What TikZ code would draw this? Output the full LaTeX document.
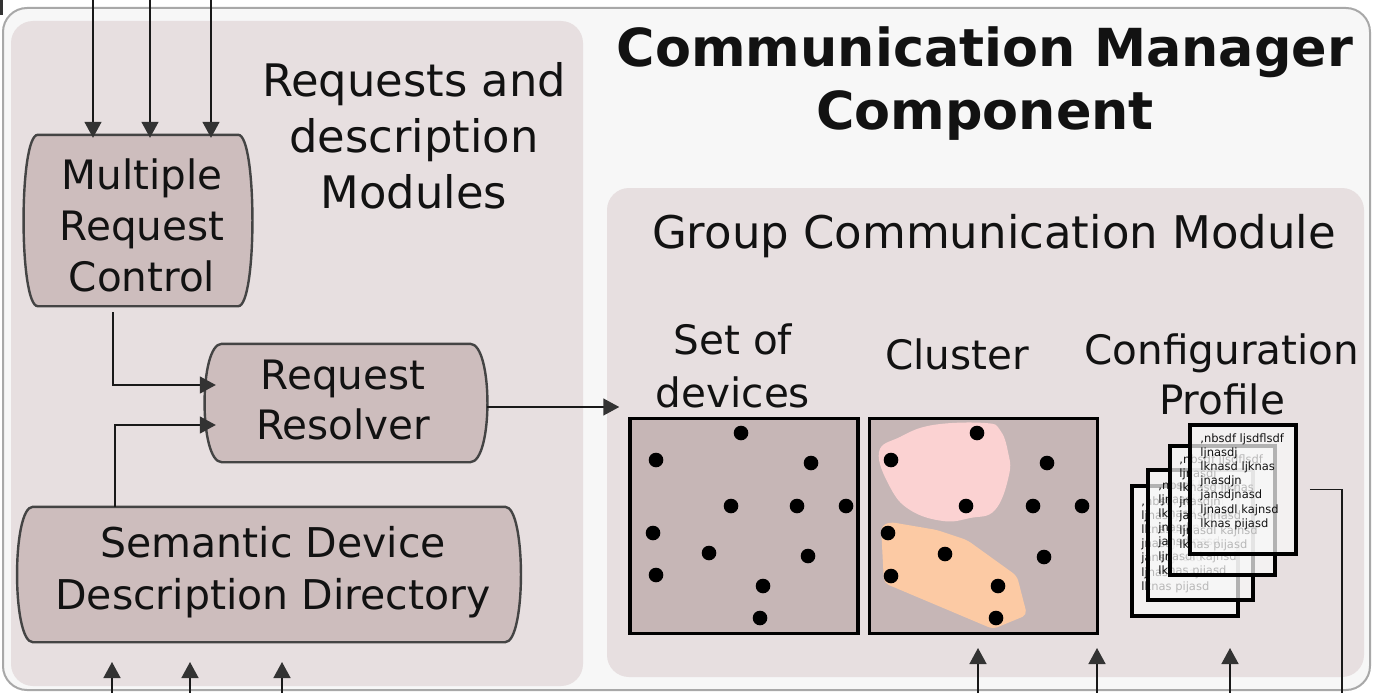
\documentclass[tikz,border=0pt]{standalone}
\usepackage{fontspec}
\setmainfont{DejaVu Sans}
\usetikzlibrary{arrows.meta,calc}
\pgfdeclarelayer{panels}
\pgfdeclarelayer{shapes}
\pgfsetlayers{panels,shapes,main}

\definecolor{outerbg}{HTML}{F7F7F7}
\definecolor{outerline}{HTML}{A8A8A8}
\definecolor{panelbg}{HTML}{E7DFE0}
\definecolor{nodefill}{HTML}{CDBDBD}
\definecolor{nodeline}{HTML}{444444}
\definecolor{boxfill}{HTML}{C6B6B6}
\definecolor{pinkzone}{HTML}{FBD2D2}
\definecolor{orangezone}{HTML}{FCCAA4}
\definecolor{pagefill}{HTML}{F8F8F8}
\definecolor{tipgray}{HTML}{333333}

% capsule outline: straight top and bottom, bulging sides
\newcommand\capsule[2]{%
  \begin{pgfonlayer}{shapes}
    \path[capline] (#1.north west) -- (#1.north east)
      .. controls ($(#1.north east)+(#2,0)$) and ($(#1.south east)+(#2,0)$) .. (#1.south east)
      -- (#1.south west)
      .. controls ($(#1.south west)+(-#2,0)$) and ($(#1.north west)+(-#2,0)$) .. cycle;
  \end{pgfonlayer}}

\newcommand\pagetext{,nbsdf ljsdflsdf\\ljnasdj\\lknasd ljknas\\jnasdjn\\jansdjnasd\\ljnasdl kajnsd\\lknas pijasd}

\begin{document}
\begin{tikzpicture}[x=1pt,y=-1pt,
  every node/.style={text=black!93},
  label/.style={font=\fontsize{40.5}{51}\selectfont, align=center, inner sep=0pt},
  modnode/.style={inner sep=0pt},
  capline/.style={draw=nodeline, line width=2.4pt, fill=nodefill},
  arr/.style={draw=black!90, line width=1.5pt, -{Triangle[length=16pt,width=17pt,color=tipgray]}},
  wire/.style={draw=black!90, line width=1.5pt},
  devbox/.style={draw=black, line width=3.5pt, fill=boxfill, minimum width=228pt, minimum height=215pt, inner sep=0pt},
  paper/.style={draw=black, line width=3.5pt, fill=pagefill, fill opacity=0.72, draw opacity=1, text opacity=1, inner sep=0pt},
  papertext/.style={anchor=north west, align=left, inner sep=0pt, font=\fontsize{11.5}{14.2}\selectfont},
  dot/.style={fill=black}
]
\useasboundingbox (0,0) rectangle (1373,693);

% frames
\begin{pgfonlayer}{panels}
  \path[fill=outerbg, draw=outerline, line width=2pt, rounded corners=24pt] (3,8) rectangle (1370,690);
  \fill[black!80] (0,0) rectangle (3,15);
  \path[fill=panelbg, rounded corners=22pt] (11,21) rectangle (583,686);
  \path[fill=panelbg, rounded corners=22pt] (607,188) rectangle (1364,677);
\end{pgfonlayer}

% titles
\node[font=\bfseries\fontsize{52.4}{63}\selectfont, align=center, inner sep=0pt] (title) at (985,84) {Communication Manager\\Component};
\node[label, font=\fontsize{44.8}{56}\selectfont] (rdm) at (414,136) {Requests and\\description\\Modules};
\node[label, font=\fontsize{45}{50}\selectfont] (gcm) at (994,236) {Group Communication Module};

% request modules
\node[modnode, minimum width=200pt, minimum height=171pt] (mrc) at (138,220.5) {};
\capsule{mrc}{19}
\node[label] (mrctxt) at ([xshift=4pt,yshift=-4.5pt]mrc.center) {Multiple\\Request\\Control};
\node[modnode, minimum width=248pt, minimum height=118pt] (rr) at (346,403) {};
\capsule{rr}{23}
\node[label, font=\fontsize{40.5}{50}\selectfont] (rrtxt) at ([xshift=-3pt,yshift=2.5pt]rr.center) {Request\\Resolver};
\node[modnode, minimum width=472pt, minimum height=135pt] (sddd) at (269,574.5) {};
\capsule{sddd}{21}
\node[label, font=\fontsize{41}{52}\selectfont] (sdddtxt) at ([xshift=4pt,yshift=2.5pt]sddd.center) {Semantic Device\\Description Directory};

% group communication contents
\node[label, font=\fontsize{40.5}{53}\selectfont] (setlbl) at (733,366) {Set of\\devices};
\node[label] (clulbl) at (957,354) {Cluster};
\node[label, font=\fontsize{40.5}{50}\selectfont] (cfglbl) at (1222,374.5) {Configuration\\Profile};

\node[devbox] (setbox) at (744,526) {};
\node[devbox] (clubox) at (983.5,526) {};

\fill[pinkzone] plot[smooth cycle, tension=0.7] coordinates {(879,452) (900,437) (933,425) (985,423) (1000,430) (1008,452) (1009,475) (995,510) (970,518) (943,521) (910,510) (890,487)};
\fill[orangezone, rounded corners=5pt] (881,526) -- (890,522) -- (937,530) -- (967,540) -- (1017,576) -- (1027,615) -- (993,629) -- (884,583) -- cycle;

\foreach \p in {(741,433),(656,460),(811,463),(731,506),(797,506),(846,506),(653,533),(709,553),(808,556),(656,575),(763,586),(760,618),
                (977,433),(891,460),(1047,463),(966,506),(1033,506),(1082,506),(888,533),(945,554),(1044,557),(891,576),(998,586),(996,618)}
  \fill[dot] \p circle (7.3pt);

% configuration profile pages
\node[paper, minimum width=106pt, minimum height=130pt] (page1) at (1185,551) {};
\node[papertext] (ptext1) at ([xshift=11pt,yshift=-12pt]page1.north west) {\pagetext};
\node[paper, minimum width=105pt, minimum height=130pt] (page2) at (1200.5,535) {};
\node[papertext] (ptext2) at ([xshift=12pt,yshift=-12pt]page2.north west) {\pagetext};
\node[paper, minimum width=105pt, minimum height=129pt] (page3) at (1222.5,510.5) {};
\node[papertext] (ptext3) at ([xshift=11pt,yshift=-10pt]page3.north west) {\pagetext};
\node[paper, minimum width=106pt, minimum height=129pt] (page4) at (1243,489.5) {};
\node[papertext] (ptext4) at ([xshift=12pt,yshift=-10pt]page4.north west) {\pagetext};

% external inputs
\foreach \x [count=\i] in {93,150,211} {
  \coordinate (top\i) at (\x,0);
  \draw[arr] (top\i) -- ([yshift=-3pt]top\i |- mrc.north);
}
\foreach \x [count=\i] in {112,190,282} {
  \coordinate (lin\i) at (\x,693);
  \coordinate (lin\i t) at (\x,662);
  \draw[arr] (lin\i) -- (lin\i t);
}
\foreach \x [count=\i] in {978,1097,1230} {
  \coordinate (gin\i) at (\x,693);
  \coordinate (gin\i t) at (\x,648);
  \draw[arr] (gin\i) -- (gin\i t);
}

% internal flow
\coordinate (mrcx) at (113,0);
\coordinate (sdx) at (115,0);
\draw[arr, shorten <=6pt] (mrcx |- mrc.south) |- ([xshift=-6pt,yshift=18pt]rr.west);
\draw[arr] (sdx |- sddd.north) |- ([xshift=-6pt,yshift=-22pt]rr.west);
\draw[arr] ([xshift=17pt,yshift=-4pt]rr.east) -- ([xshift=-9pt,yshift=-4pt]rr.east -| setbox.west);

\coordinate (cfgout) at (1342,693);
\draw[wire] ([xshift=12pt]page4.east) -| (cfgout);
\end{tikzpicture}
\end{document}
